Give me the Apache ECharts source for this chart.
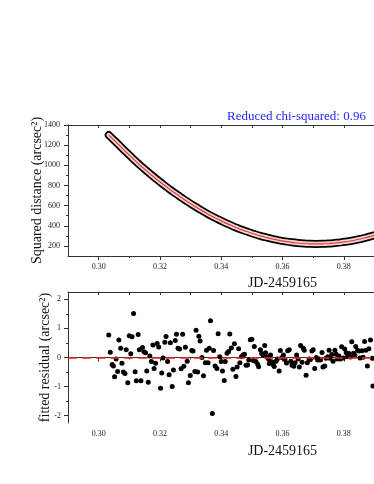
<!DOCTYPE html>
<html>
<head>
<meta charset="utf-8">
<script src="https://cdn.jsdelivr.net/npm/echarts@6/dist/echarts.min.js"></script>
<style>
  html, body { margin: 0; padding: 0; background: #fff; }
  #box { width: 374px; height: 484px; }
</style>
</head>
<body>
<div id="box"></div>
<script>
// 上图：平方距离（观测点 + 拟合曲线）
var distTime = [0.3033, 0.305, 0.307, 0.309, 0.311, 0.313, 0.315, 0.317, 0.319, 0.321,
    0.323, 0.325, 0.327, 0.329, 0.331, 0.333, 0.335, 0.337, 0.339, 0.341,
    0.343, 0.345, 0.347, 0.349, 0.351, 0.353, 0.355, 0.357, 0.359, 0.361,
    0.363, 0.365, 0.367, 0.369, 0.371, 0.373, 0.375, 0.377, 0.379, 0.381,
    0.383, 0.385, 0.387, 0.389, 0.391];
var distValue = [1300, 1250, 1190, 1130, 1072, 1015, 962, 910, 860, 812,
    766, 722, 680, 639, 600, 563, 528, 495, 464, 434,
    407, 381, 357, 336, 316, 298, 282, 267, 255, 245,
    236, 229, 224, 221, 220, 221, 224, 229, 235, 244,
    254, 266, 281, 297, 315];

// 下图：拟合残差
var resTime = [0.3033, 0.3038, 0.3044, 0.3048, 0.3052, 0.3057, 0.3062, 0.3066, 0.3072, 0.3076,
    0.3081, 0.3086, 0.3090, 0.3095, 0.3100, 0.3105, 0.3109, 0.3114, 0.3119, 0.3123,
    0.3129, 0.3133, 0.3138, 0.3143, 0.3148, 0.3153, 0.3157, 0.3162, 0.3167, 0.3172,
    0.3177, 0.3181, 0.3186, 0.3191, 0.3196, 0.3202, 0.3206, 0.3210, 0.3216, 0.3220,
    0.3225, 0.3230, 0.3234, 0.3240, 0.3244, 0.3250, 0.3254, 0.3259, 0.3264, 0.3269,
    0.3274, 0.3278, 0.3283, 0.3289, 0.3293, 0.3299, 0.3304, 0.3308, 0.3314, 0.3318,
    0.3323, 0.3327, 0.3331, 0.3337, 0.3342, 0.3348, 0.3352, 0.3357, 0.3361, 0.3365,
    0.3371, 0.3375, 0.3380, 0.3386, 0.3390, 0.3395, 0.3400, 0.3404, 0.3410, 0.3413,
    0.3419, 0.3424, 0.3428, 0.3433, 0.3438, 0.3443, 0.3448, 0.3452, 0.3457, 0.3461,
    0.3466, 0.3471, 0.3476, 0.3481, 0.3486, 0.3490, 0.3495, 0.3500, 0.3505, 0.3508,
    0.3513, 0.3519, 0.3522, 0.3528, 0.3532, 0.3537, 0.3542, 0.3545, 0.3550, 0.3555,
    0.3557, 0.3561, 0.3565, 0.3570, 0.3573, 0.3579, 0.3583, 0.3589, 0.3593, 0.3598,
    0.3603, 0.3608, 0.3613, 0.3617, 0.3622, 0.3627, 0.3631, 0.3637, 0.3641, 0.3646,
    0.3651, 0.3655, 0.3659, 0.3664, 0.3668, 0.3671, 0.3677, 0.3681, 0.3687, 0.3691,
    0.3696, 0.3700, 0.3705, 0.3710, 0.3715, 0.3719, 0.3724, 0.3729, 0.3732, 0.3738,
    0.3742, 0.3748, 0.3752, 0.3755, 0.3761, 0.3765, 0.3771, 0.3775, 0.3779, 0.3784,
    0.3789, 0.3793, 0.3798, 0.3803, 0.3808, 0.3812, 0.3817, 0.3822, 0.3826, 0.3832,
    0.3836, 0.3839, 0.3845, 0.3849, 0.3853, 0.3859, 0.3863, 0.3868, 0.3872, 0.3877,
    0.3882, 0.3887, 0.3893, 0.3895];
var resValue = [0.77, 0.18, -0.24, -0.29, -0.66, -0.05, -0.48, 0.6, 0.32, -0.2,
    -0.5, -0.55, 0.27, -0.87, 0.75, 0.13, 0.71, 1.51, -0.49, -0.8,
    0.79, 0.27, -0.8, 0.34, 0.2, 0.16, -0.46, -0.85, 0.05, -0.14,
    0.43, -0.38, -0.2, 0.48, 0.36, -1.06, -0.53, -0.02, 0.52, 0.72,
    -0.14, -0.59, 0.51, -1.0, -0.43, 0.58, 0.8, 0.32, 0.29, -0.39,
    0.8, -0.3, 0.35, -0.13, -0.87, -0.62, 0.24, 0.22, -0.48, 0.94,
    -0.5, 0.73, 0.57, 0.0, -0.63, -0.18, 0.25, -0.18, 0.32, 1.26,
    -1.92, 0.24, -0.29, -0.38, 0.82, 0.03, -0.14, -0.46, -0.79, -0.14,
    0.15, 0.21, 0.81, 0.33, -0.4, 0.47, -0.65, -0.33, 0.3, -0.18,
    0.03, 0.09, 0.11, -0.27, -0.26, -0.09, 0.61, 0.63, -0.1, 0.38,
    -0.14, -0.23, -0.32, 0.27, 0.14, 0.08, 0.41, 0.16, 0.01, -0.06,
    -0.21, 0.09, -0.15, -0.25, -0.31, -0.13, -0.05, -0.46, 0.24, 0.0,
    0.09, -0.07, -0.19, 0.23, 0.27, -0.13, -0.27, -0.3, -0.18, 0.09,
    -0.05, -0.33, 0.41, -0.16, 0.32, 0.25, -0.61, -0.18, -0.05, -0.07,
    0.22, 0.27, -0.38, 0.0, -0.09, -0.05, -0.09, 0.17, -0.33, -0.29,
    -0.03, 0.03, 0.25, -0.03, 0.1, -0.13, 0.25, 0.11, -0.05, 0.05,
    -0.05, 0.37, -0.02, 0.29, 0.16, 0.03, 0.14, 0.02, 0.54, 0.15,
    0.08, 0.38, 0.25, 0.22, -0.02, 0.23, 0.01, 0.55, 0.25, -0.29,
    0.3, 0.6, -0.03, -0.98];

// 刻度
var xMajor = [0.30, 0.32, 0.34, 0.36, 0.38, 0.40, 0.42];
var xMinor = [0.31, 0.33, 0.35, 0.37, 0.39, 0.41];
var xAll = [0.30, 0.31, 0.32, 0.33, 0.34, 0.35, 0.36, 0.37, 0.38, 0.39, 0.40, 0.41, 0.42];
var distMajor = [200, 400, 600, 800, 1000, 1200, 1400];
var distMinor = [300, 500, 700, 900, 1100, 1300];
var resMajor = [-2, -1, 0, 1, 2];
var resMinor = [-1.5, -0.5, 0.5, 1.5];

var serif = 'Liberation Serif';
var axisColor = '#333';

function pairs(xs, ys) {
    var out = [];
    for (var i = 0; i < xs.length; i++) out.push([xs[i], ys[i]]);
    return out;
}

function xAx(grid, opts) {
    var a = {
        type: 'value', gridIndex: grid, min: 0.29, max: 0.43,
        position: 'bottom',
        axisLine: { show: false, lineStyle: { color: axisColor, width: 1 } },
        axisTick: { show: false },
        axisLabel: { show: false },
        splitLine: { show: false }
    };
    for (var k in opts) a[k] = opts[k];
    return a;
}

function yAx(grid, min, max, opts) {
    var a = {
        type: 'value', gridIndex: grid, min: min, max: max,
        position: 'left',
        axisLine: { show: false, lineStyle: { color: axisColor, width: 1 } },
        axisTick: { show: false },
        axisLabel: { show: false },
        splitLine: { show: false }
    };
    for (var k in opts) a[k] = opts[k];
    return a;
}

var tickLabel = { show: true, fontFamily: serif, fontSize: 8, color: '#222' };
var nameStyle = { fontFamily: serif, fontSize: 14, color: '#111' };

var myChart = echarts.init(document.getElementById('box'));

var option = {
    backgroundColor: '#fff',
    animation: false,
    title: {
        text: 'Reduced chi-squared: 0.96',
        left: 227, top: 110, padding: 0,
        textStyle: { fontFamily: serif, fontSize: 13, fontWeight: 'normal', color: '#2626ff' }
    },
    grid: [
        { left: 68, width: 429, top: 125, height: 131, containLabel: false, outerBoundsMode: 'none' },
        { left: 68, width: 429, top: 292, height: 131, containLabel: false, outerBoundsMode: 'none' }
    ],
    xAxis: [
        // 上图
        xAx(0, {
            axisLine: { show: true, lineStyle: { color: axisColor } },
            axisTick: { show: true, inside: false, length: 4, customValues: xMajor, lineStyle: { color: axisColor } },
            axisLabel: Object.assign({}, tickLabel, { margin: 7, customValues: xMajor, formatter: function (v) { return v.toFixed(2); } }),
            name: 'JD-2459165', nameLocation: 'middle', nameGap: 20, nameMoveOverlap: false, nameTextStyle: nameStyle
        }),
        xAx(0, { axisTick: { show: true, length: 2, customValues: xMinor, lineStyle: { color: axisColor } } }),
        xAx(0, {
            position: 'top',
            axisLine: { show: true, lineStyle: { color: axisColor } },
            axisTick: { show: true, inside: true, length: 3, customValues: xAll, lineStyle: { color: axisColor } }
        }),
        // 下图
        xAx(1, {
            axisLine: { show: true, lineStyle: { color: axisColor } },
            axisTick: { show: true, inside: false, length: 4, customValues: xMajor, lineStyle: { color: axisColor } },
            axisLabel: Object.assign({}, tickLabel, { margin: 7, customValues: xMajor, formatter: function (v) { return v.toFixed(2); } }),
            name: 'JD-2459165', nameLocation: 'middle', nameGap: 21, nameMoveOverlap: false, nameTextStyle: nameStyle
        }),
        xAx(1, { axisTick: { show: true, length: 2, customValues: xMinor, lineStyle: { color: axisColor } } }),
        xAx(1, {
            position: 'top',
            axisLine: { show: true, lineStyle: { color: axisColor } },
            axisTick: { show: true, inside: true, length: 3, customValues: xAll, lineStyle: { color: axisColor } }
        })
    ],
    yAxis: [
        yAx(0, 100, 1400, {
            axisLine: { show: true, lineStyle: { color: axisColor } },
            axisTick: { show: true, length: 4, customValues: distMajor, lineStyle: { color: axisColor } },
            axisLabel: Object.assign({}, tickLabel, { margin: 8, customValues: distMajor, formatter: function (v) { return String(v); } }),
            name: 'Squared distance (arcsec²)', nameLocation: 'middle', nameGap: 24, nameMoveOverlap: false, nameTextStyle: nameStyle
        }),
        yAx(0, 100, 1400, { axisTick: { show: true, length: 2, customValues: distMinor, lineStyle: { color: axisColor } } }),
        yAx(1, -2.25, 2.25, {
            axisLine: { show: true, lineStyle: { color: axisColor } },
            axisTick: { show: true, length: 4, customValues: resMajor, lineStyle: { color: axisColor } },
            axisLabel: Object.assign({}, tickLabel, { margin: 7, customValues: resMajor, formatter: function (v) { return String(v); } }),
            name: 'fitted residual (arcsec²)', nameLocation: 'middle', nameGap: 16, nameMoveOverlap: false, nameTextStyle: nameStyle
        }),
        yAx(1, -2.25, 2.25, { axisTick: { show: true, length: 2, customValues: resMinor, lineStyle: { color: axisColor } } })
    ],
    series: [
        {
            name: 'obs-edge', type: 'line', xAxisIndex: 0, yAxisIndex: 0,
            data: pairs(distTime, distValue), smooth: true, showSymbol: false,
            lineStyle: { color: '#000', width: 8, cap: 'round' }
        },
        {
            name: 'obs-fill', type: 'line', xAxisIndex: 0, yAxisIndex: 0,
            data: pairs(distTime, distValue), smooth: true, showSymbol: false,
            lineStyle: { color: '#f7d3d3', width: 4.5, cap: 'round' }
        },
        {
            name: 'fit', type: 'line', xAxisIndex: 0, yAxisIndex: 0,
            data: pairs(distTime, distValue), smooth: true, showSymbol: false,
            lineStyle: { color: '#e03a3a', width: 1.2 }
        },
        {
            name: 'residual', type: 'scatter', xAxisIndex: 3, yAxisIndex: 2,
            data: pairs(resTime, resValue), symbolSize: 5,
            itemStyle: { color: '#000', opacity: 1 },
            markLine: {
                silent: true, symbol: 'none', label: { show: false },
                lineStyle: { color: '#ff2020', width: 1.5, type: [9, 5] },
                data: [{ yAxis: 0 }]
            }
        }
    ]
};

myChart.setOption(option);
</script>
</body>
</html>
